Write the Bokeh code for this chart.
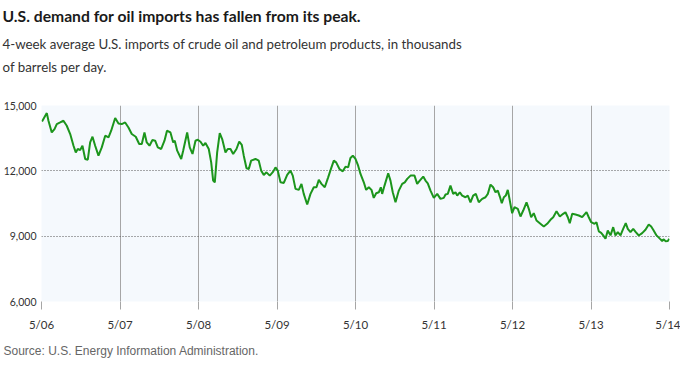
from bokeh.plotting import figure
from bokeh.models import Range1d, FixedTicker, NumeralTickFormatter, Title
from bokeh.embed import file_html
from bokeh.resources import INLINE

title_text = "U.S. demand for oil imports has fallen from its peak."
subtitle_lines = [
    "4-week average U.S. imports of crude oil and petroleum products, in thousands",
    "of barrels per day.",
]
source_text = "Source: U.S. Energy Information Administration."

tick_years = [2006, 2007, 2008, 2009, 2010, 2011, 2012, 2013, 2014]
tick_labels = ["5/06", "5/07", "5/08", "5/09", "5/10", "5/11", "5/12", "5/13", "5/14"]
y_ticks = [6000, 9000, 12000, 15000]

# decimal-year dates of the readings
week = [
    2006.340, 2006.401, 2006.422, 2006.464, 2006.499, 2006.528, 2006.571, 2006.613, 2006.655, 2006.699,
    2006.741, 2006.770, 2006.795, 2006.826, 2006.855, 2006.890, 2006.923, 2006.953, 2006.983, 2007.017,
    2007.059, 2007.101, 2007.145, 2007.187, 2007.221, 2007.272, 2007.314, 2007.356, 2007.399, 2007.441,
    2007.483, 2007.534, 2007.578, 2007.611, 2007.645, 2007.674, 2007.709, 2007.747, 2007.781, 2007.815,
    2007.858, 2007.900, 2007.932, 2007.976, 2008.011, 2008.031, 2008.062, 2008.113, 2008.138, 2008.189,
    2008.222, 2008.257, 2008.295, 2008.324, 2008.359, 2008.393, 2008.422, 2008.464, 2008.495, 2008.520,
    2008.541, 2008.571, 2008.604, 2008.635, 2008.677, 2008.706, 2008.741, 2008.775, 2008.817, 2008.852,
    2008.885, 2008.910, 2008.945, 2008.974, 2009.004, 2009.059, 2009.101, 2009.132, 2009.165, 2009.199,
    2009.241, 2009.285, 2009.314, 2009.343, 2009.378, 2009.420, 2009.463, 2009.505, 2009.534, 2009.569,
    2009.611, 2009.645, 2009.674, 2009.718, 2009.760, 2009.802, 2009.836, 2009.866, 2009.900, 2009.942,
    2009.985, 2010.027, 2010.057, 2010.087, 2010.129, 2010.171, 2010.206, 2010.240, 2010.269, 2010.299,
    2010.333, 2010.367, 2010.397, 2010.439, 2010.469, 2010.503, 2010.537, 2010.566, 2010.597, 2010.630,
    2010.656, 2010.673, 2010.703, 2010.750, 2010.779, 2010.808, 2010.843, 2010.885, 2010.928, 2010.961,
    2010.992, 2011.034, 2011.085, 2011.119, 2011.152, 2011.196, 2011.225, 2011.254, 2011.289, 2011.331,
    2011.374, 2011.416, 2011.458, 2011.480, 2011.509, 2011.543, 2011.578, 2011.607, 2011.629, 2011.662,
    2011.692, 2011.734, 2011.764, 2011.798, 2011.832, 2011.866, 2011.904, 2011.947, 2011.989, 2012.019,
    2012.053, 2012.087, 2012.117, 2012.146, 2012.172, 2012.197, 2012.223, 2012.248, 2012.273, 2012.299,
    2012.329, 2012.359, 2012.401, 2012.435, 2012.470, 2012.512, 2012.541, 2012.571, 2012.604, 2012.639,
    2012.681, 2012.732, 2012.775, 2012.817, 2012.852, 2012.894, 2012.936, 2012.979, 2013.008, 2013.038,
    2013.063, 2013.094, 2013.136, 2013.178, 2013.221, 2013.276, 2013.305, 2013.336, 2013.378, 2013.403,
    2013.433, 2013.463, 2013.489, 2013.518, 2013.547, 2013.582, 2013.616, 2013.645, 2013.675, 2013.709,
    2013.743, 2013.776, 2013.802, 2013.836, 2013.871, 2013.904, 2013.942, 2013.985, 2014.027, 2014.069,
    2014.100, 2014.126, 2014.168, 2014.210, 2014.240, 2014.261, 2014.282, 2014.312, 2014.330,
]

# 4-week average imports, thousand barrels per day
imports = [
    14267, 14650, 14300, 13763, 13919, 14148, 14221, 14300, 14070, 13690,
    13154, 12847, 13003, 12957, 13154, 12545, 12513, 13305, 13566, 13154,
    12696, 13077, 13612, 13534, 13841, 14423, 14176, 14148, 14221, 13992,
    13690, 13566, 13232, 13232, 13763, 13305, 13154, 13415, 13383, 13077,
    13003, 13383, 13841, 13763, 13305, 13383, 12925, 12545, 12925, 13763,
    13077, 12774, 13383, 13429, 13338, 13154, 13278, 13003, 12389, 11551,
    11473, 12847, 13736, 13460, 12847, 13003, 13003, 12774, 13003, 13338,
    13187, 12696, 12115, 12087, 12468, 12545, 12468, 12009, 11812, 11931,
    11780, 11963, 12160, 12009, 11473, 11446, 11812, 12009, 11780, 11171,
    11125, 11400, 10942, 10452, 10942, 11245, 11245, 11583, 11400, 11245,
    11702, 12160, 12467, 12389, 12087, 11977, 12193, 12160, 12591, 12696,
    12545, 12238, 11858, 11473, 11125, 11245, 11125, 10759, 10970, 11015,
    11245, 10942, 11322, 11886, 11551, 11015, 10557, 11093, 11400, 11473,
    11629, 11780, 11780, 11400, 11551, 11735, 11551, 11428, 11093, 10759,
    10942, 10713, 10759, 10910, 10942, 11322, 10942, 11015, 10864, 11015,
    10864, 10787, 10864, 10557, 10864, 10942, 10557, 10713, 10787, 10942,
    11368, 11245, 11015, 11093, 10818, 10512, 10787, 10864, 11125, 10635,
    10054, 10329, 10256, 9903, 10177, 10557, 10256, 9870, 10054, 9719,
    9596, 9444, 9567, 9751, 9870, 10145, 9903, 10026, 10100, 9870,
    9596, 10026, 9994, 9949, 9870, 10100, 9870, 9642, 9567, 9642,
    9220, 9154, 9036, 8880, 9261, 9036, 9413, 9036, 9183, 9036,
    9337, 9596, 9337, 9183, 9337, 9183, 9032, 9140, 9294, 9536,
    9444, 9294, 9036, 8886, 8780, 8855, 8771, 8780, 8880,
]

tick_pos = [y + 1.0 / 3.0 for y in tick_years]

W, H = 680, 368
p = figure(
    width=W, height=H, output_backend="svg", toolbar_location=None,
    x_range=Range1d(tick_pos[0], tick_pos[-1]), y_range=Range1d(y_ticks[0], y_ticks[-1]),
    min_border_left=41, min_border_right=11, min_border_top=105, min_border_bottom=67,
    background_fill_color="#f5f9fd", border_fill_color="white", outline_line_color=None,
)

p.line(week, imports, line_color="#1c951c", line_width=2)

# x axis
p.xaxis.ticker = FixedTicker(ticks=tick_pos)
p.xaxis.major_label_overrides = {t: l for t, l in zip(tick_pos, tick_labels)}
p.xaxis.axis_line_color = None
p.xaxis.major_tick_out = 8
p.xaxis.major_tick_in = 0
p.xaxis.major_tick_line_color = "#a6a6a6"
p.xaxis.minor_tick_line_color = None
p.xaxis.major_label_text_font = "Lato"
p.xaxis.major_label_text_font_size = "11.5px"
p.xaxis.major_label_text_color = "#333333"
p.xaxis.major_label_standoff = 8

# y axis
p.yaxis.ticker = FixedTicker(ticks=y_ticks)
p.yaxis.formatter = NumeralTickFormatter(format="0,0")
p.yaxis.axis_line_color = None
p.yaxis.major_tick_line_color = None
p.yaxis.major_tick_out = 0
p.yaxis.major_tick_in = 0
p.yaxis.minor_tick_line_color = None
p.yaxis.major_label_text_font = "Lato"
p.yaxis.major_label_text_font_size = "10.5px"
p.yaxis.major_label_text_color = "#333333"
p.yaxis.major_label_standoff = 5

# grids
p.xgrid.ticker = FixedTicker(ticks=tick_pos)
p.xgrid.grid_line_color = "#a6a6a6"
p.xgrid.grid_line_width = 1
p.ygrid.ticker = FixedTicker(ticks=y_ticks)
p.ygrid.grid_line_color = "#555555"
p.ygrid.grid_line_dash = "1 2"
p.ygrid.grid_line_width = 1

SUB = dict(align="left", offset=-39, text_font="Lato", text_font_size="13.3px",
           text_font_style="normal", text_color="#333333")

# titles stacked in the top panel: the first added sits nearest the plot
p.add_layout(Title(text=" ", standoff=12, **SUB), "above")                    # spacing
p.add_layout(Title(text=subtitle_lines[1], standoff=2, **SUB), "above")
p.add_layout(Title(text=subtitle_lines[0], standoff=7, **SUB), "above")
p.add_layout(Title(text=" ", align="left", text_font_size="2px", standoff=2), "above")  # spacing
p.add_layout(Title(text=title_text, align="left", offset=-39, standoff=0,
                   text_font="Lato", text_font_size="15.7px", text_font_style="bold",
                   text_color="#1a1a1a"), "above")
p.add_layout(Title(text=source_text, align="left", offset=-38, standoff=16,
                   text_font="Liberation Sans", text_font_size="12px", text_font_style="normal",
                   text_color="#666666"), "below")

open("out.html", "w").write(file_html(p, INLINE))
